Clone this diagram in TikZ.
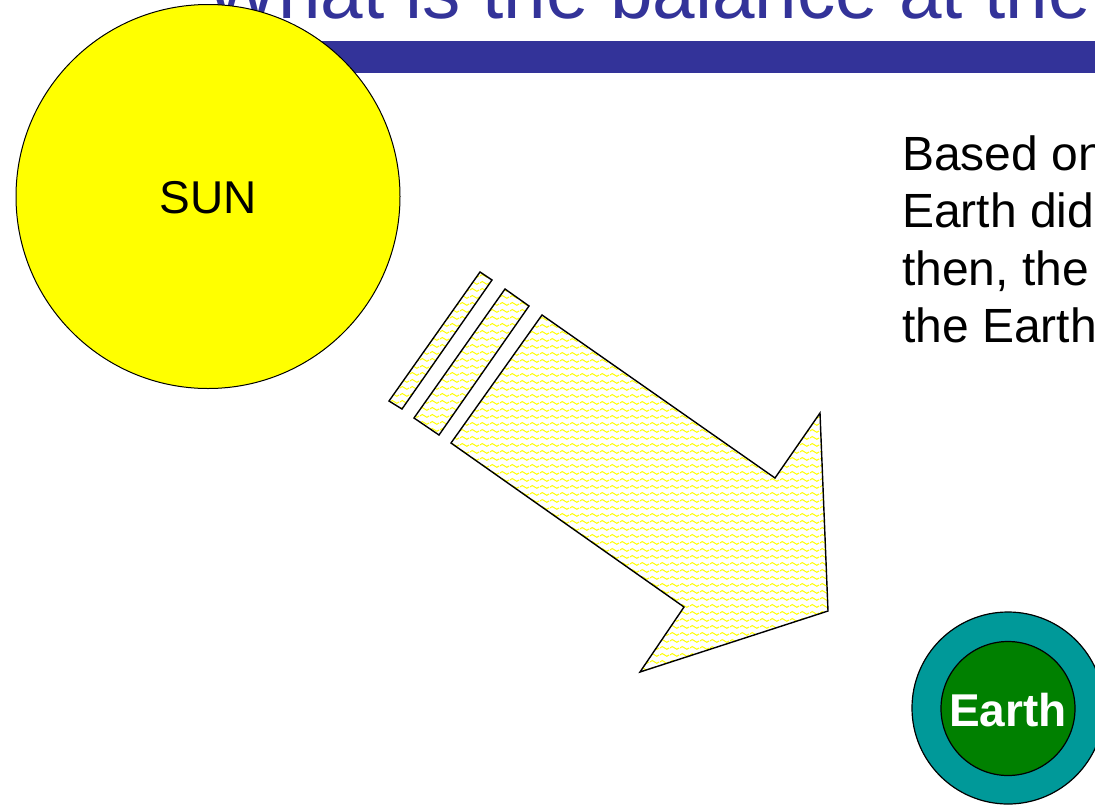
\documentclass[tikz,border=0pt]{standalone}
\usepackage{fontspec}
\setmainfont{Liberation Sans}
\usetikzlibrary{patterns}
\definecolor{titleblue}{HTML}{333399}
\definecolor{sunyellow}{HTML}{FFFF00}
\definecolor{atmteal}{HTML}{009999}
\definecolor{earthgreen}{HTML}{008000}
\pgfdeclarepatternformonly{wavy}{\pgfqpoint{0pt}{0pt}}{\pgfqpoint{10pt}{7pt}}{\pgfqpoint{10pt}{7pt}}{%
  \pgfsetlinewidth{1.1pt}%
  \pgfpathmoveto{\pgfqpoint{0pt}{3.5pt}}%
  \pgfpathcurveto{\pgfqpoint{1.7pt}{5.6pt}}{\pgfqpoint{3.3pt}{5.6pt}}{\pgfqpoint{5pt}{3.5pt}}%
  \pgfpathcurveto{\pgfqpoint{6.7pt}{1.4pt}}{\pgfqpoint{8.3pt}{1.4pt}}{\pgfqpoint{10pt}{3.5pt}}%
  \pgfusepath{stroke}%
}
\tikzset{
  beam/.style={pattern=wavy, pattern color=sunyellow, draw=black, line width=1.4pt, line join=miter},
  bodytext/.style={font=\fontsize{48}{57}\selectfont, inner sep=0pt, anchor=base west},
}
\begin{document}
\begin{tikzpicture}[x=1pt,y=-1pt]
\useasboundingbox (0,0) rectangle (1095,804);
\clip (0,0) rectangle (1095,804);
% title and bar
\node[font=\fontsize{76.5}{84}\selectfont, text=titleblue, inner sep=0pt, anchor=base west] (title) at (206,18) {What is the balance at the};
\fill[titleblue] (250,41) rectangle (1095,73);
% sun
\draw[fill=sunyellow, line width=1pt] (208,196.5) circle (192);
\node[font=\fontsize{46}{55}\selectfont, inner sep=0pt] (sun) at (208,198) {SUN};
% beams
\draw[beam] (480,272) -- (492,280) -- (402,409) -- (389,401) -- cycle;
\draw[beam] (505,289) -- (529,306) -- (439,435) -- (414,418) -- cycle;
\draw[beam] (542,315) -- (775,478) -- (820,413) -- (828,611) -- (640,672) -- (684,607) -- (451,443) -- cycle;
% text
\node[bodytext] (l1) at (902,170) {Based on};
\node[bodytext] (l2) at (902,227) {Earth did};
\node[bodytext] (l3) at (902,285) {then, the};
\node[bodytext] (l4) at (902,342) {the Earth};
% earth
\draw[fill=atmteal, line width=1.2pt] (1008,708) circle (96);
\draw[fill=earthgreen, line width=1.2pt] (1008,708.5) circle (67);
\node[font=\fontsize{46}{55}\selectfont\bfseries, text=white, inner sep=0pt] (earth) at (1008,710) {Earth};
\end{tikzpicture}
\end{document}
